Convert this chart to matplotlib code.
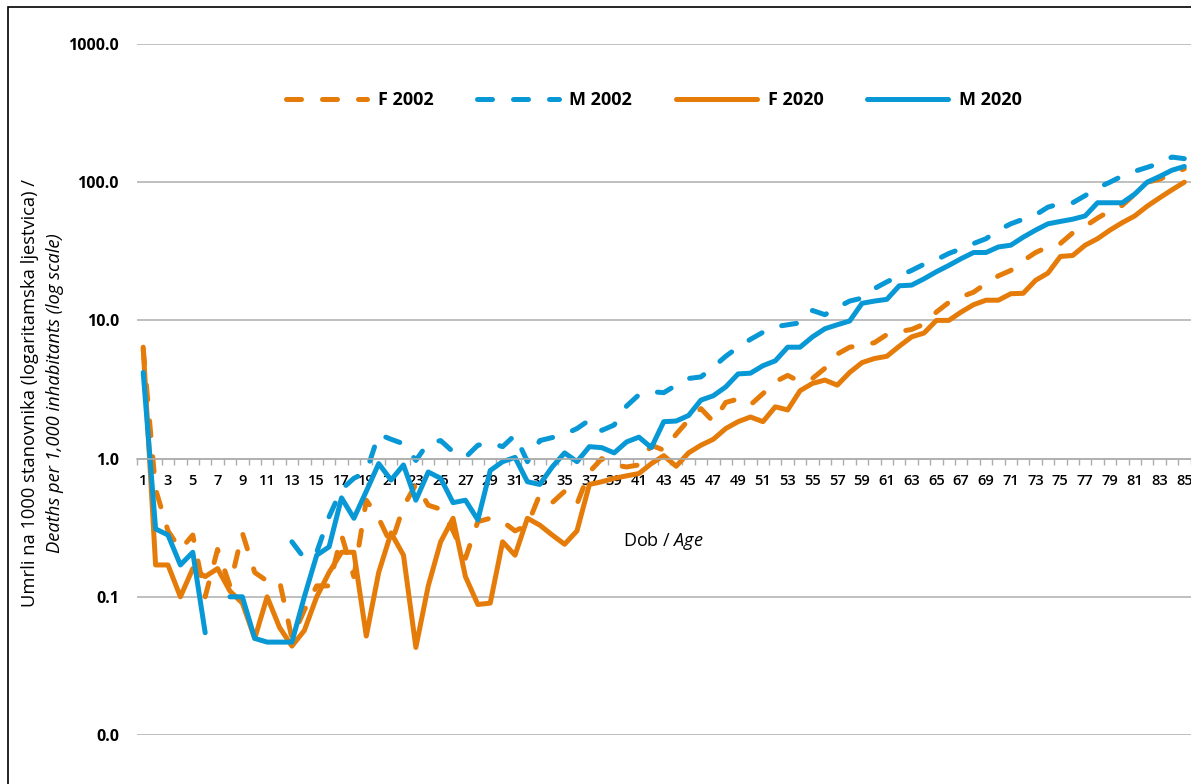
import matplotlib
matplotlib.use('Agg')
import matplotlib.pyplot as plt
import matplotlib.ticker as mticker
from matplotlib.patches import Rectangle
import numpy as np

plt.rcParams['font.family'] = ['Open Sans', 'DejaVu Sans']
plt.rcParams['mathtext.fontset'] = 'custom'
plt.rcParams['mathtext.rm'] = 'Open Sans'
plt.rcParams['mathtext.it'] = 'Open Sans:italic'

nan = np.nan
ages = list(range(1, 86))

f_2002 = [6.2, 0.6, 0.3, 0.22, 0.28, 0.1, 0.22, 0.12, 0.29, 0.15,
          0.13, 0.13, 0.05, 0.08, 0.12, 0.12, 0.28, 0.14, 0.5, 0.37,
          0.24, 0.45, 0.65, 0.46, 0.43, 0.3, 0.19, 0.35, 0.37, 0.35,
          0.3, 0.33, 0.55, 0.48, 0.58, 0.47, 0.8, 1.0, 0.9, 0.87,
          0.9, 1.25, 1.15, 1.5, 1.9, 2.3, 1.85, 2.55, 2.7, 2.45,
          2.95, 3.6, 4.0, 3.6, 3.8, 4.5, 5.7, 6.4, 6.6, 6.9,
          7.9, 8.3, 8.6, 9.4, 11.5, 13.5, 14.8, 16, 18.5, 21,
          23, 27, 31, 34, 36, 43, 48, 55, 62, 68,
          82, 100, 105, 115, 125]

m_2002 = [nan, nan, nan, nan, nan, nan, nan, nan, nan, nan,
          nan, nan, 0.25, 0.19, 0.21, 0.38, 0.6, 0.72, 0.8, 1.5,
          1.38, 1.28, 0.97, 1.3, 1.35, 1.12, 1.02, 1.25, 1.3, 1.22,
          1.48, 0.95, 1.35, 1.42, 1.5, 1.65, 1.9, 1.6, 1.75, 2.4,
          2.9, 3.05, 3.0, 3.4, 3.8, 3.9, 4.6, 5.5, 6.4, 7.3,
          8.2, 9.0, 9.3, 9.6, 11.8, 11.0, 12.4, 13.8, 14.5, 17,
          19, 21, 23, 25.5, 27.5, 30.5, 33, 36, 39, 45,
          50, 54, 58, 66, 70, 71, 80, 91, 100, 111,
          120, 128, 137, 152, 148]

f_2020 = [6.4, 0.17, 0.17, 0.1, 0.16, 0.14, 0.16, 0.11, 0.09, 0.05,
          0.1, 0.06, 0.044, 0.057, 0.1, 0.15, 0.21, 0.21, 0.052, 0.15,
          0.29, 0.2, 0.043, 0.12, 0.25, 0.37, 0.14, 0.088, 0.09, 0.25,
          0.2, 0.37, 0.33, 0.28, 0.24, 0.3, 0.65, 0.68, 0.72, 0.75,
          0.78, 0.92, 1.05, 0.88, 1.1, 1.25, 1.38, 1.65, 1.85, 2.0,
          1.85, 2.37, 2.25, 3.1, 3.5, 3.7, 3.4, 4.2, 4.95, 5.3,
          5.5, 6.5, 7.6, 8.1, 10, 10, 11.5, 13, 14, 14,
          15.6, 15.7, 19.5, 22, 29, 29.5, 35, 39, 45, 51,
          57, 67, 77, 88, 100]

m_2020 = [4.2, 0.31, 0.28, 0.17, 0.21, 0.055, nan, 0.1, 0.1, 0.05,
          0.047, 0.047, 0.047, 0.1, 0.2, 0.23, 0.52, 0.37, 0.58, 0.92,
          0.7, 0.9, 0.5, 0.8, 0.72, 0.48, 0.5, 0.36, 0.82, 0.95,
          1.02, 0.68, 0.65, 0.87, 1.1, 0.95, 1.22, 1.2, 1.1, 1.32,
          1.43, 1.2, 1.85, 1.87, 2.05, 2.65, 2.85, 3.3, 4.1, 4.15,
          4.7, 5.1, 6.4, 6.4, 7.6, 8.7, 9.3, 9.9, 13.3, 13.8,
          14.2, 17.8, 18, 20, 22.5, 25, 28, 31, 31, 34,
          35, 40, 45, 50, 52, 54, 57, 71, 71, 71,
          82, 100, 110, 122, 130]

orange = '#E57C0A'
blue = '#0898D6'
grid_c = '#ADADAD'
W, H = 1191, 784

fig = plt.figure(figsize=(W / 100, H / 100), dpi=100)
ax = fig.add_axes([137 / W, 1 - 735 / H, (1190.5 - 137) / W, (735 - 44) / H])

lw = 3.6
dash = (3.0, 4.2)
ax.plot(ages, f_2002, color=orange, lw=lw, dashes=dash, dash_capstyle='round',
        solid_joinstyle='round', label='F 2002')
ax.plot(ages, m_2002, color=blue, lw=lw, dashes=dash, dash_capstyle='round',
        solid_joinstyle='round', label='M 2002')
ax.plot(ages, f_2020, color=orange, lw=lw, solid_capstyle='round',
        solid_joinstyle='round', label='F 2020')
ax.plot(ages, m_2020, color=blue, lw=lw, solid_capstyle='round',
        solid_joinstyle='round', label='M 2020')

ax.set_yscale('log')
ax.set_ylim(0.01, 1000)
ax.set_xlim(0.5, 85.5)
ax.yaxis.set_major_locator(mticker.FixedLocator([0.01, 0.1, 1, 10, 100, 1000]))
ax.yaxis.set_minor_locator(mticker.NullLocator())
ax.yaxis.set_major_formatter(mticker.FuncFormatter(lambda v, p: f'{v:.1f}'))
ax.grid(axis='y', color=grid_c, lw=1.1)
ax.set_axisbelow(True)

for s in ['top', 'right', 'left']:
    ax.spines[s].set_visible(False)
ax.spines['bottom'].set_position(('data', 1))
ax.spines['bottom'].set_color(grid_c)
ax.spines['bottom'].set_linewidth(1.1)

ax.set_xticks(ages[::2])
ax.set_xticks(np.arange(0.5, 86, 1), minor=True)
ax.tick_params(axis='x', which='major', length=0, pad=11, labelsize=10.5)
ax.tick_params(axis='x', which='minor', length=4.5, width=1, color=grid_c, direction='out')
ax.tick_params(axis='y', which='both', length=0, pad=13, labelsize=11.5)
for t in ax.get_xticklabels():
    t.set_fontweight('semibold')
for t in ax.get_yticklabels():
    t.set_fontweight('bold')

ax.legend(loc='center', bbox_to_anchor=(654 / W, 1 - 100 / H), bbox_transform=fig.transFigure,
          ncol=4, frameon=False, prop={'weight': 'bold', 'size': 13},
          handlelength=4.5, handletextpad=0.6, columnspacing=2.4)

ax.text(663 / W, 1 - 541 / H, r'Dob / $\mathit{Age}$', transform=fig.transFigure,
        ha='center', va='center', fontsize=13)

fig.text(30 / W, 1 - 393 / H, 'Umrli na 1000 stanovnika (logaritamska ljestvica) /',
         rotation=90, ha='center', va='center', fontsize=13.2)
fig.text(55 / W, 1 - 393 / H, 'Deaths per 1,000 inhabitants (log scale)',
         rotation=90, ha='center', va='center', fontsize=13.2, style='italic')

fig.add_artist(Rectangle((8 / W, -0.05), 1.2, 1.05 - 7 / H, transform=fig.transFigure,
                         fill=False, edgecolor='black', lw=1.2))

fig.savefig('out.png', dpi=100)
